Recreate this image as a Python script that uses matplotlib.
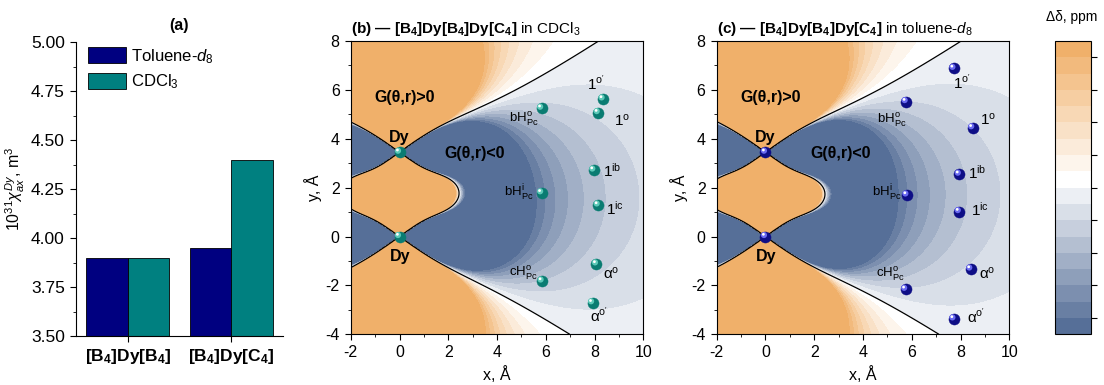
# Dy shift maps + chi_ax bar chart
import numpy as np
import matplotlib.pyplot as plt
from matplotlib import transforms
from matplotlib.colors import ListedColormap, to_rgb
from matplotlib.ticker import MultipleLocator

plt.rcParams['font.family'] = ['Liberation Sans', 'DejaVu Sans']
plt.rcParams['mathtext.fontset'] = 'custom'
plt.rcParams['mathtext.rm'] = 'Liberation Sans'
plt.rcParams['mathtext.it'] = 'Liberation Sans:italic'
plt.rcParams['mathtext.bf'] = 'Liberation Sans:bold'
plt.rcParams['axes.unicode_minus'] = False

# ---- data ----
compounds = [r'$\mathbf{[B_4]Dy[B_4]}$', r'$\mathbf{[B_4]Dy[C_4]}$']
chi_toluene = [3.90, 3.95]   # 10^31 chi_ax, m^3
chi_cdcl3 = [3.90, 4.40]

dy_y = [3.45, 0.0]           # Dy positions on the y axis (x = 0)
dy_site = [0, 1]             # which compound's chi belongs to each Dy

nuc_labels = [r'bH$^{\rm o}_{\rm Pc}$', r"1$^{\rm o'}$", r'1$^{\rm o}$', r'1$^{\rm ib}$',
              r'bH$^{\rm i}_{\rm Pc}$', r'1$^{\rm ic}$', r'α$^{\rm o}$', r'cH$^{\rm o}_{\rm Pc}$',
              r"α$^{\rm o'}$"]
b_x = [5.83, 8.35, 8.15, 7.97, 5.83, 8.15, 8.08, 5.85, 7.92]
b_y = [5.25, 5.63, 5.07, 2.72, 1.79, 1.29, -1.12, -1.82, -2.71]
c_x = [5.77, 7.73, 8.50, 7.95, 5.80, 7.95, 8.42, 5.75, 7.73]
c_y = [5.52, 6.88, 4.45, 2.55, 1.70, 1.02, -1.33, -2.16, -3.37]

# label placement (offset pixels, ha)
b_off = [(-3, -14, 'right'), (-7, 9, 'center'), (16, -13, 'left'), (9, -7, 'left'),
         (-8, -4, 'right'), (8, -10, 'left'), (7, -15, 'left'), (-4, 5, 'right'),
         (7, -19, 'center')]
c_off = [(0, -22, 'right'), (8, -21, 'center'), (7, 3, 'left'), (9, -4, 'left'),
         (-5, -2, 'right'), (12, -4, 'left'), (8, -10, 'left'), (-1, 12, 'right'),
         (13, -4, 'left')]

fig = plt.figure(figsize=(11.04, 3.85), dpi=100)

# ---- panel (a) ----
axa = fig.add_axes([0.0688, 0.1273, 0.1875, 0.763])
pos = np.arange(len(compounds))
w = 0.4
axa.bar(pos - w / 2, chi_toluene, w, color='#000080', edgecolor='k', linewidth=0.6,
        label=r'Toluene-$d_8$')
axa.bar(pos + w / 2, chi_cdcl3, w, color='#008080', edgecolor='k', linewidth=0.6,
        label=r'CDCl$_3$')
axa.set_xlim(-0.5, 1.5)
axa.set_ylim(3.5, 5.0)
axa.set_xticks(pos)
axa.set_xticklabels(compounds, fontsize=11.5)
axa.yaxis.set_major_locator(MultipleLocator(0.25))
axa.yaxis.set_minor_locator(MultipleLocator(0.125))
axa.yaxis.set_major_formatter(plt.FormatStrFormatter('%.2f'))
axa.tick_params(axis='both', which='major', direction='out', length=4.5, labelsize=12.5)
axa.tick_params(axis='y', which='minor', direction='out', length=2.5)
axa.spines['top'].set_visible(False)
axa.spines['right'].set_visible(False)
axa.set_ylabel(r'$10^{31}\chi^{Dy}_{ax}$, m$^3$', fontsize=11.5, labelpad=3)
axa.set_title('(a)', fontsize=11.5, fontweight='bold', pad=9)
axa.legend(loc='upper left', bbox_to_anchor=(0.04, 0.995), frameon=False, fontsize=12,
           handlelength=2.3, handleheight=1.1, handletextpad=0.3, labelspacing=0.4,
           borderpad=0.2, borderaxespad=0)

# ---- shift field ----
xs = np.linspace(-2, 10, 700)
ys = np.linspace(-4, 8, 700)
X, Y = np.meshgrid(xs, ys)


def shift_map(chis):
    dd = np.zeros_like(X)
    for yd, site in zip(dy_y, dy_site):
        dyv = Y - yd
        r2 = np.maximum(X ** 2 + dyv ** 2, 1e-6)
        cos2 = dyv ** 2 / r2
        dd += chis[site] * 1e5 / (12 * np.pi) * (3 * cos2 - 1) / r2 ** 1.5
    return np.clip(dd, -89.9, 89.9)


orange = np.array(to_rgb('#F0B06A'))
blue = np.array(to_rgb('#566F98'))
white = np.ones(3)
band_cols = [white + k / 9 * (blue - white) for k in range(9, 0, -1)] + \
            [white + k / 8 * (orange - white) for k in range(0, 9)]
cmap = ListedColormap(band_cols)
levels = np.arange(-90, 91, 10)


def spheres(ax, x, y, base, light):
    ax.scatter(x, y, s=64, c=base, edgecolors=base, linewidths=0.3, zorder=5)
    tr = transforms.offset_copy(ax.transData, fig=fig, x=-1.1, y=1.1, units='points')
    ax.scatter(x, y, s=20, c=light, edgecolors='none', transform=tr, zorder=6)
    tr2 = transforms.offset_copy(ax.transData, fig=fig, x=-1.5, y=1.6, units='points')
    ax.scatter(x, y, s=4, c='white', edgecolors='none', transform=tr2, zorder=7)


def shift_panel(rect, chis, nx, ny, offs, base, light, title):
    ax = fig.add_axes(rect)
    dd = shift_map(chis)
    cf = ax.contourf(X, Y, dd, levels=levels, cmap=cmap)
    ax.contour(X, Y, dd, levels=[0], colors='k', linewidths=0.9)
    ax.set_xlim(-2, 10)
    ax.set_ylim(-4, 8)
    ax.xaxis.set_major_locator(MultipleLocator(2))
    ax.xaxis.set_minor_locator(MultipleLocator(1))
    ax.yaxis.set_major_locator(MultipleLocator(2))
    ax.yaxis.set_minor_locator(MultipleLocator(1))
    ax.tick_params(which='major', direction='out', length=4.5, labelsize=11.5)
    ax.tick_params(which='minor', direction='out', length=2.5)
    ax.set_xlabel('x, Å', fontsize=11.5, labelpad=4)
    ax.set_ylabel('y, Å', fontsize=11.5, labelpad=2)
    ax.set_title(title, loc='left', fontsize=11, pad=6)

    spheres(ax, [0.0] * len(dy_y), dy_y, base, light)
    spheres(ax, nx, ny, base, light)
    ax.annotate('Dy', (0, dy_y[0]), xytext=(0, 10), textcoords='offset pixels',
                ha='center', va='baseline', fontsize=11.5, fontweight='bold')
    ax.annotate('Dy', (0, dy_y[1]), xytext=(1, -24), textcoords='offset pixels',
                ha='center', va='baseline', fontsize=11.5, fontweight='bold')
    ax.text(0.22, 5.67, 'G(θ,r)>0', ha='center', va='center', fontsize=11.5, fontweight='bold')
    ax.text(3.1, 3.38, 'G(θ,r)<0', ha='center', va='center', fontsize=11.5, fontweight='bold')
    for lab, x, y, (ox, oy, ha) in zip(nuc_labels, nx, ny, offs):
        fs = 9.5 if 'H' in lab else 11
        ax.annotate(lab, (x, y), xytext=(ox, oy), textcoords='offset pixels',
                    ha=ha, va='baseline', fontsize=fs)
    return cf


cf = shift_panel([0.3177, 0.1317, 0.265, 0.7618], chi_cdcl3, b_x, b_y, b_off,
                 '#0A7C72', '#5CC9B8',
                 r'$\mathbf{(b)\ —\ [B_4]Dy[B_4]Dy[C_4]}$ in CDCl$_3$')
shift_panel([0.6492, 0.1317, 0.265, 0.7618], chi_toluene, c_x, c_y, c_off,
            '#0E0E86', '#6A6AF0',
            r'$\mathbf{(c)\ —\ [B_4]Dy[B_4]Dy[C_4]}$ in toluene-$d_8$')

# ---- colour bar ----
cax = fig.add_axes([0.9556, 0.1317, 0.0326, 0.7618])
cb = fig.colorbar(cf, cax=cax, ticks=np.arange(-80, 81, 20))
cb.ax.set_yticklabels([])
cb.ax.tick_params(direction='out', length=4, width=0.8)
cb.outline.set_linewidth(0.8)
fig.text(0.971, 0.956, 'Δδ, ppm', ha='center', va='center', fontsize=10)

fig.savefig('out.png', dpi=100)
